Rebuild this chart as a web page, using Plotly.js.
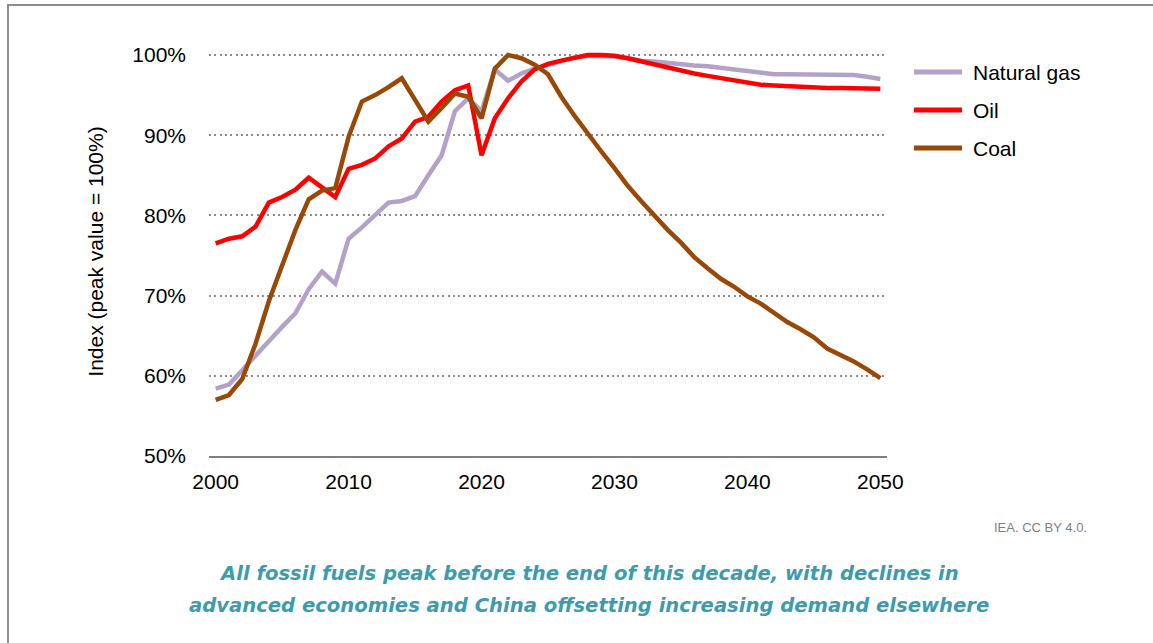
<!DOCTYPE html>
<html>
<head>
<meta charset="utf-8">
<script src="https://cdn.plot.ly/plotly-3.0.1.min.js"></script>
<style>
  html, body { margin: 0; padding: 0; background: #fff; }
  #chart { width: 1153px; height: 643px; position: absolute; left: 0; top: 0; }
  #frame { position: absolute; left: 7px; top: 4px; width: 1160px; height: 660px;
           border-left: 2px solid #8c8c8c; border-top: 2px solid #8c8c8c; pointer-events: none; }
</style>
</head>
<body>
<div id="chart"></div>
<div id="frame"></div>
<script>
// ---- data (index, peak value = 100%) ----
var years = [];
for (var yr = 2000; yr <= 2050; yr++) years.push(yr);

var seriesNames = ["Natural gas", "Oil", "Coal"];
var seriesColors = ["#b3a2c7", "#ff0000", "#984807"];

var gas = [58.4, 58.9, 60.7, 62.6, 64.3, 66.1, 67.8, 70.8, 73.0, 71.5,
           77.1, 78.5, 80.1, 81.6, 81.8, 82.4, 85.0, 87.5, 93.0, 94.6,
           93.0, 98.2, 96.8, 97.7, 98.3, 98.8, 99.3, 99.7, 99.9, 99.9,
           99.8, 99.6, 99.3, 99.2, 99.0, 98.8, 98.7, 98.6, 98.4, 98.2,
           98.0, 97.9, 97.6, 97.6, 97.6, 97.6, 97.6, 97.6, 97.5, 97.3, 97.0];

var oil = [76.5, 77.1, 77.4, 78.6, 81.6, 82.3, 83.2, 84.7, 83.5, 82.3,
           85.8, 86.3, 87.1, 88.6, 89.6, 91.7, 92.3, 94.2, 95.6, 96.2,
           87.5, 92.1, 94.6, 96.7, 98.2, 98.9, 99.3, 99.7, 100.0, 100.0,
           99.9, 99.6, 99.2, 98.8, 98.4, 98.0, 97.7, 97.4, 97.1, 96.8,
           96.5, 96.3, 96.2, 96.1, 96.0, 95.95, 95.9, 95.9, 95.85, 95.8, 95.8];

var coal = [57.0, 57.6, 59.6, 64.0, 69.3, 73.8, 78.2, 82.0, 83.1, 83.4,
            89.8, 94.2, 95.0, 96.0, 97.1, 94.4, 91.7, 93.4, 95.2, 94.8,
            92.1, 98.3, 100.0, 99.6, 98.8, 97.6, 94.8, 92.4, 90.1, 88.0,
            85.9, 83.7, 81.8, 79.9, 78.2, 76.6, 74.8, 73.4, 72.1, 71.1,
            69.9, 69.0, 67.8, 66.7, 65.8, 64.8, 63.4, 62.6, 61.8, 60.8, 59.7];

var xTickVals = [2000, 2010, 2020, 2030, 2040, 2050];
var xTickText = ["2000", "2010", "2020", "2030", "2040", "2050"];
var yTickVals = [50, 60, 70, 80, 90, 100];
var yTickText = ["50%", "60%", "70%", "80%", "90%", "100%"];

var yAxisTitle = "Index (peak value = 100%)";
var sourceText = "IEA. CC BY 4.0.";
var captionLines = ["All fossil fuels peak before the end of this decade, with declines in",
                    "advanced economies and China offsetting increasing demand elsewhere"];

// ---- layout geometry ----
var W = 1153, H = 643;
var L = 209, R = 887, T = 47, B = 456;
function px(xp) { return (xp - L) / (R - L); }
function py(yp) { return (B - yp) / (B - T); }

var FONT = "Liberation Sans, Arial, sans-serif";
var CAPFONT = "DejaVu Sans, Liberation Sans, sans-serif";
var seriesData = [gas, oil, coal];

var traces = seriesData.map(function (vals, i) {
  return {
    type: "scatter", mode: "lines",
    x: years, y: vals, name: seriesNames[i],
    line: { color: seriesColors[i], width: 4.5, shape: "linear" },
    hoverinfo: "x+y+name", showlegend: false
  };
});

var shapes = [];
var annotations = [];
var legendRowsY = [72, 110, 148];
for (var i = 0; i < seriesNames.length; i++) {
  shapes.push({
    type: "line", xref: "paper", yref: "paper",
    x0: px(914), x1: px(962), y0: py(legendRowsY[i]), y1: py(legendRowsY[i]),
    line: { color: seriesColors[i], width: 5 }
  });
  annotations.push({
    xref: "paper", yref: "paper", x: px(971), y: py(legendRowsY[i]),
    xanchor: "left", yanchor: "middle", showarrow: false,
    text: seriesNames[i], font: { family: FONT, size: 21, color: "#000" }
  });
}
annotations.push({
  xref: "paper", yref: "paper", x: px(1089), y: py(527),
  xanchor: "right", yanchor: "middle", showarrow: false,
  text: sourceText, font: { family: FONT, size: 13, color: "#7f7f7f" }
});
annotations.push({
  xref: "paper", yref: "paper", x: px(589), y: py(573),
  xanchor: "center", yanchor: "middle", showarrow: false,
  text: "<b><i>" + captionLines[0] + "</i></b>",
  font: { family: CAPFONT, size: 19.6, color: "#3a9cae" }
});
annotations.push({
  xref: "paper", yref: "paper", x: px(589), y: py(605),
  xanchor: "center", yanchor: "middle", showarrow: false,
  text: "<b><i>" + captionLines[1] + "</i></b>",
  font: { family: CAPFONT, size: 19.6, color: "#3a9cae" }
});

var layout = {
  width: W, height: H,
  margin: { l: L, r: W - R, t: T, b: H - B, pad: 0 },
  paper_bgcolor: "#ffffff", plot_bgcolor: "#ffffff",
  font: { family: FONT, size: 21, color: "#000" },
  showlegend: false,
  xaxis: {
    range: [1999.5, 2050.5],
    tickmode: "array", tickvals: xTickVals, ticktext: xTickText,
    ticks: "", showgrid: false, zeroline: false,
    showline: true, linecolor: "#7f7f7f", linewidth: 1.5,
    tickfont: { family: FONT, size: 21, color: "#000" },
    ticklabelstandoff: 6, fixedrange: true
  },
  yaxis: {
    range: [50, 101],
    tickmode: "array", tickvals: yTickVals, ticktext: yTickText,
    ticks: "", showgrid: true, gridcolor: "#8c8c8c", gridwidth: 2,
    griddash: "2px,3.3px", zeroline: false, showline: false,
    tickfont: { family: FONT, size: 21, color: "#000" },
    ticklabelstandoff: 22,
    title: { text: yAxisTitle, font: { family: FONT, size: 21, color: "#000" }, standoff: 22 },
    fixedrange: true
  },
  shapes: shapes,
  annotations: annotations
};

Plotly.newPlot("chart", traces, layout, { displayModeBar: false, staticPlot: true });
</script>
</body>
</html>
